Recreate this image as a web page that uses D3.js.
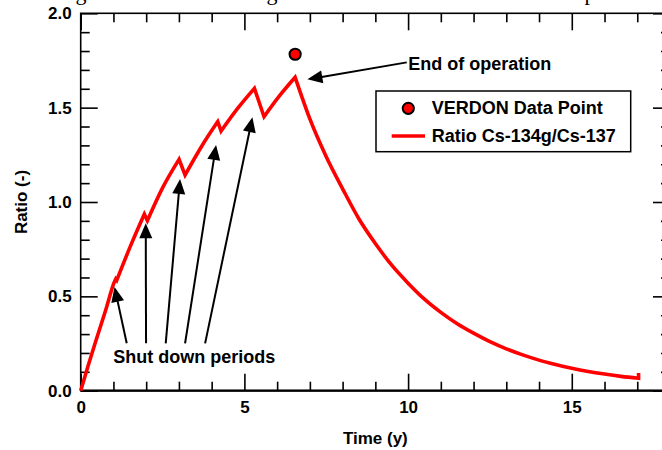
<!DOCTYPE html>
<html>
<head>
<meta charset="utf-8">
<script src="https://cdn.jsdelivr.net/npm/d3@7"></script>
<style>
  html, body { margin: 0; padding: 0; background: #fff; }
  svg { display: block; }
  text { font-family: "Liberation Sans", Arial, Helvetica, sans-serif; font-weight: bold; }
</style>
</head>
<body>
<svg id="chart" width="662" height="450"></svg>
<script>
// ---------- data ----------
const timeYears = [0, 0.22, 0.44, 0.75, 1.05, 1.07, 1.10, 1.5, 1.945, 2.036, 2.5, 3.004, 3.188, 3.7, 4.187, 4.288, 4.8, 5.306, 5.60, 6.07, 6.55,
  6.75, 7.0, 7.5, 8.0, 8.5, 9.0, 9.5, 10.0, 10.5, 11.0, 11.5, 12.0, 12.5, 13.0, 13.5, 14.0, 14.5, 15.0, 15.5, 16.0, 16.5, 17.04, 17.04];
const ratioCs = [0, 0.128, 0.251, 0.42, 0.585, 0.592, 0.585, 0.758, 0.936, 0.901, 1.075, 1.226, 1.143, 1.297, 1.426, 1.376, 1.497, 1.602, 1.452, 1.562, 1.661,
  1.56, 1.44, 1.24, 1.07, 0.91, 0.78, 0.665, 0.57, 0.485, 0.415, 0.355, 0.305, 0.26, 0.222, 0.19, 0.162, 0.139, 0.119, 0.102, 0.088, 0.076, 0.066, 0.094];

const verdonTime = [6.55];
const verdonRatio = [1.783];

const xDomain = [0, 18];
const yDomain = [0, 2];
const xMajorTicks = [0, 5, 10, 15];
const xTickLabels = ["0", "5", "10", "15"];
const xMinorTicks = [1, 2, 3, 4, 6, 7, 8, 9, 11, 12, 13, 14, 16, 17];
const yMajorTicks = [0, 0.5, 1.0, 1.5, 2.0];
const yTickLabels = ["0.0", "0.5", "1.0", "1.5", "2.0"];
const yMinorTicks = [0.1, 0.2, 0.3, 0.4, 0.6, 0.7, 0.8, 0.9, 1.1, 1.2, 1.3, 1.4, 1.6, 1.7, 1.8, 1.9];

// shut-down arrows (from -> to, in data units)
const shutdownArrowFromT = [1.406, 1.996, 2.597, 3.188, 3.80];
const shutdownArrowFromR = [0.251, 0.251, 0.251, 0.251, 0.251];
const shutdownArrowToT = [1.033, 1.987, 3.035, 4.135, 5.245];
const shutdownArrowToR = [0.55, 0.887, 1.122, 1.302, 1.449];
const endArrowFrom = [9.96, 1.740];
const endArrowTo = [6.925, 1.650];

const xLabel = "Time (y)";
const yLabel = "Ratio (-)";
const legendLabels = ["VERDON Data Point", "Ratio Cs-134g/Cs-137"];
const annotShutdown = "Shut down periods";
const annotEnd = "End of operation";

// ---------- drawing ----------
const svg = d3.select("#chart");
const pL = 80.7, pR = 670, pT = 13.3, pB = 390.7;
const x = d3.scaleLinear().domain(xDomain).range([pL, pR]);
const y = d3.scaleLinear().domain(yDomain).range([pB, pT]);

// caption fragments cut off at top of the picture (as in the reference)
[["g", 81], ["g", 272], ["p", 590]].forEach(([c, px]) => {
  svg.append("text").attr("x", px).attr("y", -0.5).attr("text-anchor", "middle")
    .style("font-family", "'Liberation Serif', 'Times New Roman', serif").style("font-weight", "normal")
    .attr("font-size", 22).attr("fill", "#000").text(c);
});

const axisStroke = 1.6;
function styleAxis(g) {
  g.selectAll(".domain").remove();
  g.selectAll(".tick line").attr("stroke", "#000").attr("stroke-width", axisStroke);
  g.selectAll(".tick text").attr("fill", "#000").attr("font-size", 17)
    .style("font-family", "'Liberation Sans', Arial, sans-serif").style("font-weight", "bold");
}

// bottom
svg.append("g").attr("transform", `translate(0,${pB})`)
  .call(d3.axisBottom(x).tickValues(xMajorTicks).tickFormat((d, i) => xTickLabels[i]).tickSize(-17).tickPadding(10))
  .call(styleAxis);
svg.append("g").attr("transform", `translate(0,${pB})`)
  .call(d3.axisBottom(x).tickValues(xMinorTicks).tickFormat("").tickSize(-9)).call(styleAxis);
// top
svg.append("g").attr("transform", `translate(0,${pT})`)
  .call(d3.axisTop(x).tickValues(xMajorTicks).tickFormat("").tickSize(-17)).call(styleAxis);
svg.append("g").attr("transform", `translate(0,${pT})`)
  .call(d3.axisTop(x).tickValues(xMinorTicks).tickFormat("").tickSize(-9)).call(styleAxis);
// left
svg.append("g").attr("transform", `translate(${pL},0)`)
  .call(d3.axisLeft(y).tickValues(yMajorTicks).tickFormat((d, i) => yTickLabels[i]).tickSize(-17).tickPadding(9))
  .call(styleAxis);
svg.append("g").attr("transform", `translate(${pL},0)`)
  .call(d3.axisLeft(y).tickValues(yMinorTicks).tickFormat("").tickSize(-9)).call(styleAxis);
// right
svg.append("g").attr("transform", `translate(${pR},0)`)
  .call(d3.axisRight(y).tickValues(yMajorTicks).tickFormat("").tickSize(-17)).call(styleAxis);
svg.append("g").attr("transform", `translate(${pR},0)`)
  .call(d3.axisRight(y).tickValues(yMinorTicks).tickFormat("").tickSize(-9)).call(styleAxis);

// frame
svg.append("rect").attr("x", pL).attr("y", pT).attr("width", pR - pL).attr("height", pB - pT)
  .attr("fill", "none").attr("stroke", "#000").attr("stroke-width", axisStroke);
svg.append("line").attr("x1", pL).attr("x2", pR).attr("y1", pB).attr("y2", pB)
  .attr("stroke", "#000").attr("stroke-width", 2.2);

// axis titles
svg.append("text").attr("x", (pL + pR) / 2).attr("y", 444).attr("text-anchor", "middle")
  .attr("font-size", 17).attr("fill", "#000").text(xLabel);
svg.append("text").attr("transform", `translate(26.5,${(pT + pB) / 2}) rotate(-90)`)
  .attr("text-anchor", "middle").attr("font-size", 17).attr("fill", "#000").text(yLabel);

// red ratio line: split into monotonic runs; smooth runs, straight drops
const pts = timeYears.map((t, i) => [t, ratioCs[i]]);
const runs = [];
let cur = [pts[0], pts[1]];
let dir = Math.sign(pts[1][1] - pts[0][1]);
for (let i = 2; i < pts.length; i++) {
  const d = Math.sign(pts[i][1] - pts[i - 1][1]);
  const sameX = pts[i][0] === pts[i - 1][0];
  if (d === dir && !sameX) { cur.push(pts[i]); }
  else { runs.push(cur); cur = [pts[i - 1], pts[i]]; dir = sameX ? 99 : d; }
}
runs.push(cur);
const smooth = d3.line().x(d => x(d[0])).y(d => y(d[1])).curve(d3.curveMonotoneX);
const straight = d3.line().x(d => x(d[0])).y(d => y(d[1])).curve(d3.curveLinear);
let pathStr = "";
runs.forEach((r, k) => {
  let s = (r.length >= 3 ? smooth : straight)(r);
  if (k > 0) s = s.replace(/^M[^A-Za-z]*/, "");
  pathStr += s;
});
svg.append("path").attr("d", pathStr).attr("fill", "none").attr("stroke", "#ff0000")
  .attr("stroke-width", 3.6).attr("stroke-linejoin", "miter").attr("stroke-miterlimit", 3);

// VERDON data point
svg.selectAll(".verdon").data(verdonTime).join("circle").attr("class", "verdon")
  .attr("cx", d => x(d)).attr("cy", (d, i) => y(verdonRatio[i])).attr("r", 5.6)
  .attr("fill", "#ff0000").attr("stroke", "#000").attr("stroke-width", 2);

// arrows
function arrow(x1, y1, x2, y2) {
  const dx = x2 - x1, dy = y2 - y1, len = Math.hypot(dx, dy);
  const ux = dx / len, uy = dy / len;
  const hl = 15, hw = 6.5;
  const bx = x2 - ux * hl, by = y2 - uy * hl;
  svg.append("line").attr("x1", x1).attr("y1", y1).attr("x2", bx + ux * 2).attr("y2", by + uy * 2)
    .attr("stroke", "#000").attr("stroke-width", 2);
  svg.append("path")
    .attr("d", `M${x2},${y2}L${bx - uy * hw},${by + ux * hw}L${bx + uy * hw},${by - ux * hw}Z`)
    .attr("fill", "#000");
}
shutdownArrowFromT.forEach((t, i) => {
  arrow(x(t), y(shutdownArrowFromR[i]), x(shutdownArrowToT[i]), y(shutdownArrowToR[i]));
});
arrow(x(endArrowFrom[0]), y(endArrowFrom[1]), x(endArrowTo[0]), y(endArrowTo[1]));

// annotations
svg.append("text").attr("x", 113.3).attr("y", 362.7).attr("font-size", 18).attr("fill", "#000").text(annotShutdown);
svg.append("text").attr("x", 408.3).attr("y", 70).attr("font-size", 18).attr("fill", "#000").text(annotEnd);

// legend
const lg = svg.append("g");
lg.append("rect").attr("x", 376).attr("y", 91).attr("width", 254.7).attr("height", 60.7)
  .attr("fill", "#fff").attr("stroke", "#000").attr("stroke-width", 1.5);
lg.append("circle").attr("cx", 408.3).attr("cy", 108.3).attr("r", 5.6)
  .attr("fill", "#ff0000").attr("stroke", "#000").attr("stroke-width", 2);
lg.append("line").attr("x1", 391.7).attr("x2", 425).attr("y1", 136).attr("y2", 136)
  .attr("stroke", "#ff0000").attr("stroke-width", 3.6);
lg.append("text").attr("x", 431.7).attr("y", 114).attr("font-size", 18).attr("fill", "#000").text(legendLabels[0]);
lg.append("text").attr("x", 431.7).attr("y", 141.7).attr("font-size", 18).attr("fill", "#000").text(legendLabels[1]);
</script>
</body>
</html>
